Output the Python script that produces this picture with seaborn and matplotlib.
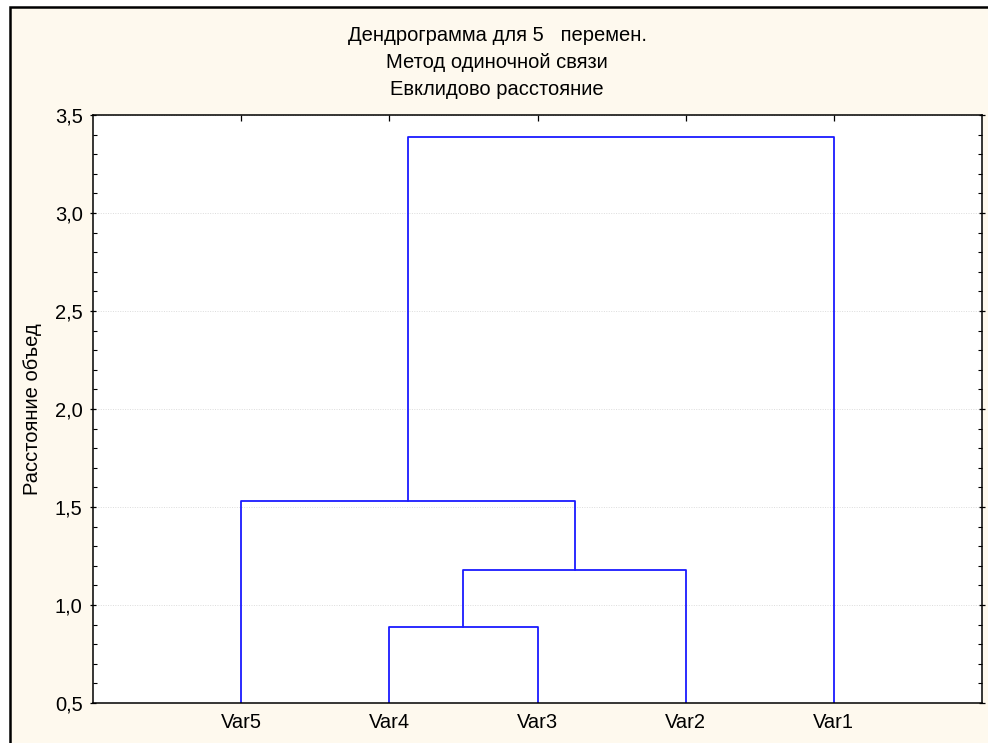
import matplotlib
matplotlib.use("Agg")
import matplotlib.pyplot as plt
import matplotlib.ticker as mticker
from matplotlib.patches import Rectangle
import seaborn as sns
import pandas as pd

# ---- data ----
leaf_order = ["Var5", "Var4", "Var3", "Var2", "Var1"]
merge_left = ["Var4", "C1", "Var5", "C3"]
merge_right = ["Var3", "Var2", "C2", "Var1"]
merge_names = ["C1", "C2", "C3", "C4"]
merge_heights = [0.89, 1.18, 1.53, 3.39]
title_lines = ["Дендрограмма для 5   перемен.", "Метод одиночной связи", "Евклидово расстояние"]
y_label = "Расстояние объед"

sns.set_theme(style="white")
plt.rcParams["font.family"] = ["Liberation Sans", "DejaVu Sans"]

# ---- dendrogram segments ----
pos = {name: (i + 1, 0.0) for i, name in enumerate(leaf_order)}
rows = []
for k, (a, b, nm, h) in enumerate(zip(merge_left, merge_right, merge_names, merge_heights)):
    xa, ya = pos[a]
    xb, yb = pos[b]
    for j, (x, y) in enumerate([(xa, ya), (xa, h), (xb, h), (xb, yb)]):
        rows.append({"seg": k, "order": j, "x": x, "y": y})
    pos[nm] = ((xa + xb) / 2.0, h)
df = pd.DataFrame(rows)

fig = plt.figure(figsize=(9.88, 7.43), dpi=100, facecolor="white")
# cream panel with black frame
fig.patches.append(Rectangle((10 / 988, -0.1), 1.2, 1.1 - 7 / 743,
                             transform=fig.transFigure, facecolor="#FEF9EE",
                             edgecolor="black", linewidth=1.8, zorder=-10))

ax = fig.add_axes([93 / 988, 1 - 703 / 743, (982 - 93) / 988, (703 - 115) / 743])
ax.set_zorder(5)
ax.set_facecolor("white")

sns.lineplot(data=df, x="x", y="y", units="seg", estimator=None, sort=False,
             color="#1a1aff", linewidth=1.3, ax=ax, legend=False)

ax.set_xlim(0, len(leaf_order) + 1)
ax.set_ylim(0.5, 3.5)
ax.set_xticks(range(1, len(leaf_order) + 1))
ax.set_xticklabels(leaf_order)
ax.yaxis.set_major_locator(mticker.MultipleLocator(0.5))
ax.yaxis.set_minor_locator(mticker.MultipleLocator(0.1))
ax.yaxis.set_major_formatter(mticker.FuncFormatter(lambda v, p: f"{v:.1f}".replace(".", ",")))
ax.set_xlabel("")
ax.set_ylabel("")

ax.grid(True, axis="y", which="major", color="#dcdcdc", linestyle=(0, (1, 1.5)), linewidth=0.7)
ax.grid(False, axis="x")

for s in ax.spines.values():
    s.set_visible(True)
    s.set_color("black")
    s.set_linewidth(1.1)

ax.tick_params(axis="x", which="both", bottom=True, top=True, labelbottom=True,
               direction="in", length=4, width=0.9, color="black", labelsize=14.5,
               pad=7, labelcolor="black")
ax.tick_params(axis="x", which="major", bottom=False)
ax.tick_params(axis="y", which="major", left=True, right=True, direction="inout",
               length=5, width=0.9, color="black", labelsize=14.5, pad=5, labelcolor="black")
ax.tick_params(axis="y", which="minor", left=True, right=True, direction="in",
               length=3, width=0.8, color="black")

xc = 497 / 988
for txt, yb in zip(title_lines, [41, 68, 95]):
    fig.text(xc, 1 - yb / 743, txt, ha="center", va="baseline", fontsize=14.5, color="black")

fig.text(32 / 988, 1 - 409 / 743, y_label, rotation=90, ha="center", va="center",
         fontsize=14.5, color="black")

fig.savefig("out.png", dpi=100, facecolor=fig.get_facecolor())
